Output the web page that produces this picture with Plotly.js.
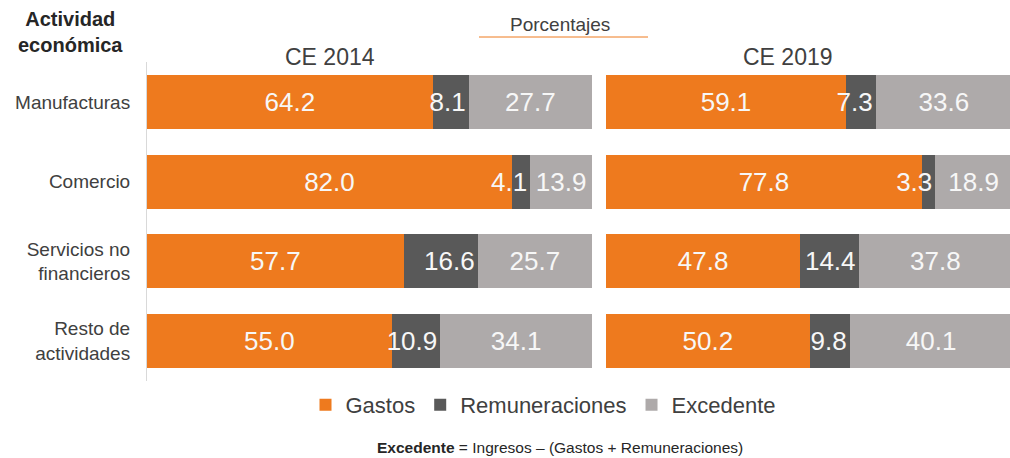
<!DOCTYPE html>
<html>
<head>
<meta charset="utf-8">
<script src="https://cdn.plot.ly/plotly-3.0.1.min.js"></script>
<style>
  html, body { margin: 0; padding: 0; background: #ffffff; }
  #chart { width: 1010px; height: 458px; }
</style>
</head>
<body>
<div id="chart"></div>
<script>
// ---- Data ----
const categories = ["Manufacturas", "Comercio", "Servicios no<br>financieros", "Resto de<br>actividades"];
const seriesNames = ["Gastos", "Remuneraciones", "Excedente"];

const gastos2014 = [64.2, 82.0, 57.7, 55.0];
const remuneraciones2014 = [8.1, 4.1, 16.6, 10.9];
const excedente2014 = [27.7, 13.9, 25.7, 34.1];

const gastos2019 = [59.1, 77.8, 47.8, 50.2];
const remuneraciones2019 = [7.3, 3.3, 14.4, 9.8];
const excedente2019 = [33.6, 18.9, 37.8, 40.1];

const panelTitles = ["CE 2014", "CE 2019"];

// ---- Styling ----
const FONT = '"Liberation Sans", Arial, sans-serif';
const colors = ["#EE7A1E", "#595959", "#AEAAAA"];
const anchors = ["middle", "end", "middle"];
const W = 1010, H = 458;
const T = 62, B = 77;
const plotH = H - T - B;
const px = v => v / W;
const py = v => (H - B - v) / plotH;

function makeTrace(name, vals, idx, xa, ya, showlegend) {
  return {
    type: "bar",
    orientation: "h",
    name: name,
    x: vals,
    y: categories,
    xaxis: xa,
    yaxis: ya,
    width: 0.675,
    marker: { color: colors[idx], line: { width: 0 } },
    texttemplate: "%{x:.1f}",
    textposition: "inside",
    insidetextanchor: anchors[idx],
    textangle: 0,
    textfont: { family: FONT, size: 26, color: "#F7F7F7" },
    hoverinfo: "skip",
    legendgroup: name,
    showlegend: showlegend
  };
}

const sets2014 = [gastos2014, remuneraciones2014, excedente2014];
const sets2019 = [gastos2019, remuneraciones2019, excedente2019];
const traces = [];
seriesNames.forEach((n, i) => traces.push(makeTrace(n, sets2014[i], i, "x", "y", true)));
seriesNames.forEach((n, i) => traces.push(makeTrace(n, sets2019[i], i, "x2", "y2", false)));

const layout = {
  width: W,
  height: H,
  margin: { l: 0, r: 0, t: T, b: B, pad: 0 },
  paper_bgcolor: "#ffffff",
  plot_bgcolor: "rgba(0,0,0,0)",
  barmode: "stack",
  font: { family: FONT, color: "#404040" },
  uniformtext: { mode: "show", minsize: 26 },
  showlegend: true,
  legend: {
    orientation: "h",
    x: px(543), xanchor: "center",
    y: py(405), yanchor: "middle",
    font: { family: FONT, size: 22, color: "#404040" },
    itemgap: 14,
    traceorder: "normal",
    bgcolor: "rgba(0,0,0,0)"
  },
  xaxis: {
    domain: [px(147), px(592)],
    range: [0, 100],
    visible: false,
    fixedrange: true
  },
  xaxis2: {
    domain: [px(606), 1],
    range: [0, 99.5],
    anchor: "y2",
    visible: false,
    fixedrange: true
  },
  yaxis: {
    anchor: "x",
    autorange: "reversed",
    type: "category",
    showgrid: false,
    zeroline: false,
    showline: true,
    linecolor: "#D9D9D9",
    linewidth: 1,
    ticks: "",
    ticklabelstandoff: 12,
    tickfont: { family: FONT, size: 19, color: "#404040" },
    automargin: false,
    fixedrange: true
  },
  yaxis2: {
    anchor: "x2",
    matches: "y",
    autorange: "reversed",
    type: "category",
    showgrid: false,
    zeroline: false,
    showline: false,
    showticklabels: false,
    ticks: "",
    automargin: false,
    fixedrange: true
  },
  shapes: [
    {
      type: "line", xref: "paper", yref: "paper",
      x0: px(479), x1: px(648), y0: py(37), y1: py(37),
      line: { color: "#EE7A1E", width: 1 }
    }
  ],
  annotations: [
    {
      text: "<b>Actividad<br>económica</b>", xref: "paper", yref: "paper",
      x: px(70), y: py(32), xanchor: "center", yanchor: "middle", align: "center",
      showarrow: false, font: { family: FONT, size: 20, color: "#262626" }
    },
    {
      text: "Porcentajes", xref: "paper", yref: "paper",
      x: px(560), y: py(25), xanchor: "center", yanchor: "middle",
      showarrow: false, font: { family: FONT, size: 19, color: "#404040" }
    },
    {
      text: panelTitles[0], xref: "paper", yref: "paper",
      x: px(330), y: py(57), xanchor: "center", yanchor: "middle",
      showarrow: false, font: { family: FONT, size: 23, color: "#404040" }
    },
    {
      text: panelTitles[1], xref: "paper", yref: "paper",
      x: px(788), y: py(57), xanchor: "center", yanchor: "middle",
      showarrow: false, font: { family: FONT, size: 23, color: "#404040" }
    },
    {
      text: "<b>Excedente</b> = Ingresos – (Gastos + Remuneraciones)", xref: "paper", yref: "paper",
      x: px(560), y: py(447), xanchor: "center", yanchor: "middle",
      showarrow: false, font: { family: FONT, size: 15.5, color: "#262626" }
    }
  ]
};

Plotly.newPlot("chart", traces, layout, { displayModeBar: false, staticPlot: true });
</script>
</body>
</html>
